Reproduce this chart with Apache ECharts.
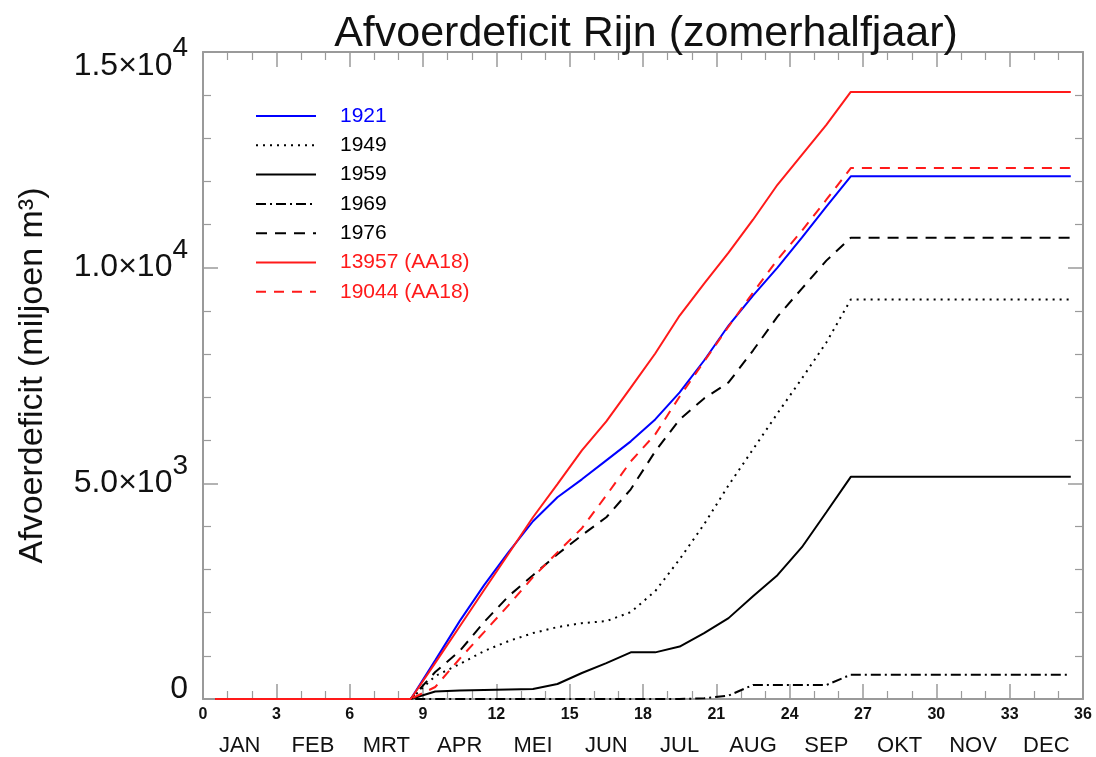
<!DOCTYPE html>
<html>
<head>
<meta charset="utf-8">
<title>Afvoerdeficit Rijn (zomerhalfjaar)</title>
<script src="https://cdn.jsdelivr.net/npm/echarts@6/dist/echarts.min.js"></script>
<style>
  html, body { margin: 0; padding: 0; background: #fff; }
  #chart { width: 1096px; height: 757px; }
</style>
</head>
<body>
<div id="chart"></div>
<script>
// Decade index (middle of each 10-day period, 36 per year)
const decades = [0.5, 1.5, 2.5, 3.5, 4.5, 5.5, 6.5, 7.5, 8.5, 9.5, 10.5, 11.5,
                 12.5, 13.5, 14.5, 15.5, 16.5, 17.5, 18.5, 19.5, 20.5, 21.5, 22.5, 23.5,
                 24.5, 25.5, 26.5, 27.5, 28.5, 29.5, 30.5, 31.5, 32.5, 33.5, 34.5, 35.5];

const months = ['JAN', 'FEB', 'MRT', 'APR', 'MEI', 'JUN', 'JUL', 'AUG', 'SEP', 'OKT', 'NOV', 'DEC'];

// Cumulative discharge deficit (miljoen m3)
const d1921 = [0, 0, 0, 0, 0, 0, 0, 0, 0,
  896, 1806, 2639, 3403, 4121, 4676, 5093, 5533, 5973, 6482, 7107, 7848, 8658, 9353, 10001, 10695, 11413, 12119,
  12119, 12119, 12119, 12119, 12119, 12119, 12119, 12119, 12119];
const d1949 = [0, 0, 0, 0, 0, 0, 0, 0, 0,
  532, 810, 1111, 1343, 1528, 1667, 1759, 1806, 2014, 2500, 3241, 4051, 4954, 5788, 6621, 7431, 8265, 9260,
  9260, 9260, 9260, 9260, 9260, 9260, 9260, 9260, 9260];
const d1959 = [0, 0, 0, 0, 0, 0, 0, 0, 0,
  174, 197, 208, 220, 232, 347, 602, 833, 1081, 1081, 1215, 1528, 1875, 2384, 2870, 3519, 4329, 5151,
  5151, 5151, 5151, 5151, 5151, 5151, 5151, 5151, 5151];
const d1969 = [0, 0, 0, 0, 0, 0, 0, 0, 0,
  0, 0, 0, 0, 0, 0, 0, 0, 0, 0, 0, 15, 80, 324, 324, 324, 324, 563,
  563, 563, 563, 563, 563, 563, 563, 563, 563];
const d1976 = [0, 0, 0, 0, 0, 0, 0, 0, 0,
  625, 1111, 1783, 2384, 2870, 3357, 3797, 4213, 4862, 5741, 6482, 6968, 7339, 8079, 8866, 9515, 10163, 10695,
  10695, 10695, 10695, 10695, 10695, 10695, 10695, 10695, 10695];
const d13957 = [0, 0, 0, 0, 0, 0, 0, 0, 0,
  838, 1681, 2526, 3368, 4213, 4982, 5764, 6436, 7218, 8010, 8890, 9630, 10348, 11112, 11922, 12617, 13311, 14075,
  14075, 14075, 14075, 14075, 14075, 14075, 14075, 14075, 14075];
const d19044 = [0, 0, 0, 0, 0, 0, 0, 0, 0,
  278, 933, 1551, 2176, 2824, 3400, 3960, 4720, 5510, 6135, 7014, 7825, 8635, 9422, 10186, 10857, 11575, 12309,
  12309, 12309, 12309, 12309, 12309, 12309, 12309, 12309, 12309];

const FONT = 'Liberation Sans, Arial, sans-serif';
const AXIS = '#9a9a9a';
const BLUE = '#0000ff';
const RED = '#ff1a1a';
const BLACK = '#000000';
const TEXT = '#111111';

function pairs(vals) {
  return decades.map((x, i) => [x, vals[i]]);
}

const seriesDefs = [
  { name: '1921', data: d1921, color: BLUE, type: 'solid' },
  { name: '1949', data: d1949, color: BLACK, type: [2, 5] },
  { name: '1959', data: d1959, color: BLACK, type: 'solid' },
  { name: '1969', data: d1969, color: BLACK, type: [10, 4, 2, 4] },
  { name: '1976', data: d1976, color: BLACK, type: [11, 8] },
  { name: '13957 (AA18)', data: d13957, color: RED, type: 'solid' },
  { name: '19044 (AA18)', data: d19044, color: RED, type: [10, 8] }
];

const Y_MAX = 15000;

// y tick labels as mantissa x 10^exponent; the top label sits a bit below its tick,
// the zero label a bit above it
function sciLabel(v) {
  if (v === 0) return '{z|0}';
  const e = Math.floor(Math.log10(v) + 1e-9);
  const m = v / Math.pow(10, e);
  const text = m.toFixed(1) + '×10';
  if (v === Y_MAX) return '{bt|' + text + '}{st|' + e + '}';
  return '{b|' + text + '}{s|' + e + '}';
}

const valueTicks = {
  show: true, inside: true, length: 15,
  lineStyle: { color: AXIS, width: 1.5 }
};
const minorTicks = n => ({ show: true, splitNumber: n, length: 8, lineStyle: { color: AXIS, width: 1.2 } });
const frameLine = { show: true, onZero: false, lineStyle: { color: AXIS, width: 2 } };

const chart = echarts.init(document.getElementById('chart'), null, { renderer: 'canvas' });

chart.setOption({
  animation: false,
  backgroundColor: '#fff',
  title: {
    text: 'Afvoerdeficit Rijn (zomerhalfjaar)',
    left: 641,
    top: 8,
    textAlign: 'center',
    textStyle: { fontFamily: FONT, fontSize: 43, fontWeight: 'normal', color: TEXT }
  },
  legend: {
    orient: 'vertical',
    left: 250,
    top: 100,
    itemWidth: 60,
    itemHeight: 14,
    itemGap: 7.3,
    selectedMode: false,
    itemStyle: { opacity: 0 },
    textStyle: { fontFamily: FONT, fontSize: 21, lineHeight: 22, padding: [0, 0, 0, 19] },
    data: seriesDefs.map(s => ({ name: s.name, textStyle: { color: s.color } }))
  },
  grid: { left: 203, right: 13, top: 52, bottom: 57, containLabel: false },
  xAxis: [
    {
      type: 'value', min: 0, max: 36, interval: 3, position: 'bottom',
      axisLine: frameLine,
      axisTick: valueTicks,
      minorTick: minorTicks(3),
      splitLine: { show: false },
      axisLabel: { margin: 8, fontFamily: FONT, fontSize: 16, fontWeight: 'bold', color: TEXT }
    },
    {
      type: 'category', data: months, position: 'bottom', boundaryGap: true,
      axisLine: { show: false }, axisTick: { show: false }, splitLine: { show: false },
      axisLabel: { margin: 36, fontFamily: FONT, fontSize: 22, color: TEXT, interval: 0 }
    },
    {
      type: 'value', min: 0, max: 36, interval: 3, position: 'top',
      axisLine: frameLine,
      axisTick: valueTicks,
      minorTick: minorTicks(3),
      splitLine: { show: false },
      axisLabel: { show: false }
    }
  ],
  yAxis: [
    {
      type: 'value', min: 0, max: Y_MAX, interval: 5000, position: 'left',
      name: 'Afvoerdeficit (miljoen m³)',
      nameLocation: 'middle',
      nameGap: 153,
      nameTextStyle: { fontFamily: FONT, fontSize: 34, color: TEXT },
      axisLine: frameLine,
      axisTick: valueTicks,
      minorTick: minorTicks(5),
      splitLine: { show: false },
      axisLabel: {
        margin: 15,
        formatter: sciLabel,
        rich: {
          b: { fontFamily: FONT, fontSize: 32, lineHeight: 62, color: TEXT },
          s: { fontFamily: FONT, fontSize: 28, lineHeight: 28, verticalAlign: 'top', color: TEXT },
          bt: { fontFamily: FONT, fontSize: 32, lineHeight: 62, color: TEXT, padding: [28, 0, 0, 0] },
          st: { fontFamily: FONT, fontSize: 28, lineHeight: 28, verticalAlign: 'top', color: TEXT, padding: [13, 0, 0, 0] },
          z: { fontFamily: FONT, fontSize: 32, lineHeight: 62, color: TEXT, padding: [0, 0, 20, 0] }
        }
      }
    },
    {
      type: 'value', min: 0, max: Y_MAX, interval: 5000, position: 'right',
      axisLine: frameLine,
      axisTick: valueTicks,
      minorTick: minorTicks(5),
      splitLine: { show: false },
      axisLabel: { show: false }
    }
  ],
  series: seriesDefs.map(s => ({
    name: s.name,
    type: 'line',
    xAxisIndex: 0,
    yAxisIndex: 0,
    data: pairs(s.data),
    symbol: 'none',
    showSymbol: false,
    smooth: false,
    color: s.color,
    lineStyle: { color: s.color, width: 2, type: s.type },
    emphasis: { disabled: true }
  }))
});
</script>
</body>
</html>
